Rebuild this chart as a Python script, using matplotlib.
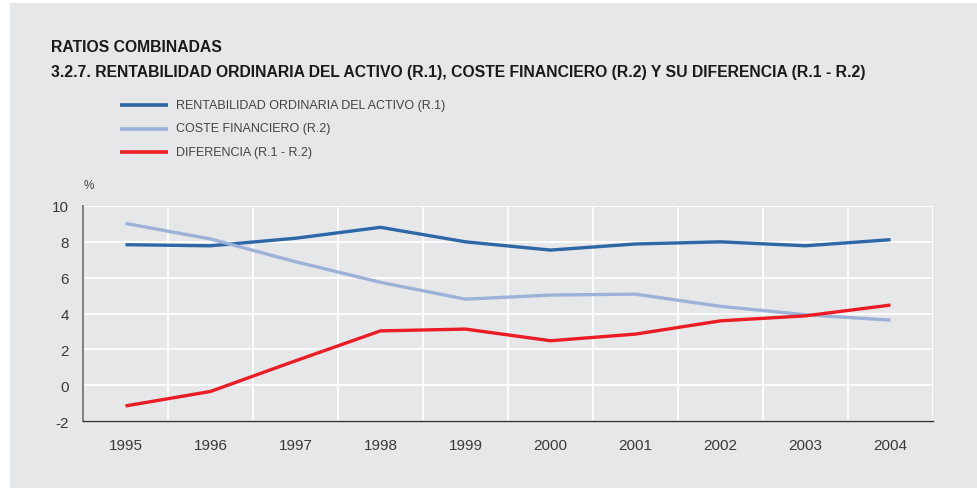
import matplotlib
matplotlib.use("Agg")
import matplotlib.pyplot as plt
from matplotlib.patches import Rectangle
from matplotlib.lines import Line2D

years = ["1995", "1996", "1997", "1998", "1999", "2000", "2001", "2002", "2003", "2004"]
r1 = [7.84, 7.78, 8.20, 8.81, 8.00, 7.54, 7.88, 8.00, 7.78, 8.12]
r2 = [9.03, 8.16, 6.89, 5.74, 4.80, 5.03, 5.08, 4.40, 3.93, 3.63]
diff = [-1.16, -0.35, 1.36, 3.03, 3.13, 2.48, 2.85, 3.59, 3.87, 4.47]
yticks = [-2, 0, 2, 4, 6, 8, 10]
labels = ["RENTABILIDAD ORDINARIA DEL ACTIVO (R.1)", "COSTE FINANCIERO (R.2)", "DIFERENCIA (R.1 - R.2)"]
colors = ["#2c67a6", "#9db2d8", "#ec1c24"]

plt.rcParams['font.family'] = ['Liberation Sans', 'DejaVu Sans']
bg = "#e6e7e9"
fig = plt.figure(figsize=(9.78, 4.89), dpi=100, facecolor="white")
fig.patches.append(Rectangle((10/978, 0), 1 - 10/978, 1 - 4/489, transform=fig.transFigure,
                             facecolor=bg, edgecolor="none", zorder=-10))

ax = fig.add_axes([83/978, 1 - 422/489, 850/978, 215/489])
ax.set_facecolor(bg)
x = list(range(len(years)))
for vals, c in zip([r1, r2, diff], colors):
    ax.plot(x, vals, color=c, lw=2.4, solid_capstyle="butt", zorder=3)

ax.set_xlim(-0.5, len(years) - 0.5)
ax.set_ylim(-2, 10)
ax.set_yticks(yticks)
ax.set_yticklabels([str(v) for v in yticks])
ax.set_xticks(x)
ax.set_xticklabels(years)
ax.set_xticks([i - 0.5 for i in range(len(years) + 1)], minor=True)
ax.grid(False)
ax.grid(which="minor", axis="x", color="white", lw=1.3, zorder=1)
ax.grid(which="major", axis="y", color="white", lw=1.3, zorder=1)
ax.tick_params(which="both", length=0)
ax.tick_params(axis="y", pad=10, labelsize=11, labelcolor="#3a3a3a")
ax.tick_params(axis="x", pad=12, labelsize=11, labelcolor="#3a3a3a")
for s in ["top", "right"]:
    ax.spines[s].set_visible(False)
ax.spines["left"].set_color("#777777")
ax.spines["left"].set_linewidth(1.3)
ax.spines["bottom"].set_color("#333333")
ax.spines["bottom"].set_linewidth(1.0)

fig.text(51/978, 1 - 48/489, "RATIOS COMBINADAS", fontsize=11.3, fontweight="bold",
         color="#1a1a1a", va="center", ha="left")
fig.text(51/978, 1 - 73/489,
         "3.2.7. RENTABILIDAD ORDINARIA DEL ACTIVO (R.1), COSTE FINANCIERO (R.2) Y SU DIFERENCIA (R.1 - R.2)",
         fontsize=11.3, fontweight="bold", color="#1a1a1a", va="center", ha="left")

for i, (lab, c) in enumerate(zip(labels, colors)):
    yy = 1 - (106 + 23.5 * i) / 489
    fig.add_artist(Line2D([120/978, 168/978], [yy, yy], transform=fig.transFigure,
                          color=c, lw=2.6, solid_capstyle="butt"))
    fig.text(176/978, yy, lab, fontsize=9.0, color="#444444", va="center", ha="left")

fig.text(84/978, 1 - 186/489, "%", fontsize=8.5, color="#444444", va="center", ha="left")

fig.savefig("out.png", dpi=100, facecolor=fig.get_facecolor())
